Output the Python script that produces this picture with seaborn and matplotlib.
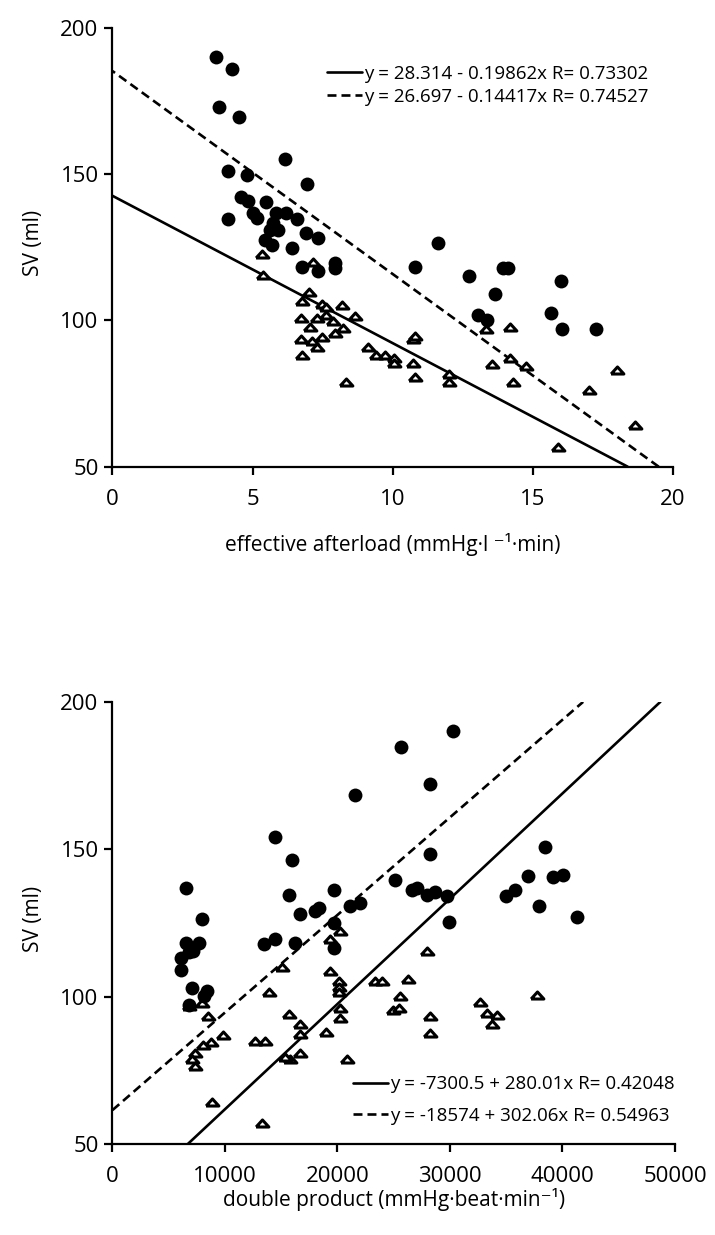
import numpy as np
import matplotlib
matplotlib.use("Agg")
import matplotlib.pyplot as plt
import seaborn as sns

# ---------------- top panel: effective afterload vs SV ----------------
ea_circle_x = [3.7, 4.27, 3.8, 4.52, 6.16, 4.13, 4.79, 6.95, 4.6, 4.84, 5.46, 4.11, 5.02,
               5.14, 5.85, 6.2, 6.57, 5.73, 5.91, 5.62, 6.92, 7.34, 5.44, 5.68, 6.42,
               6.77, 7.34, 7.93, 7.93, 10.8, 11.63, 12.71, 13.94, 14.1, 16.0, 13.66,
               13.05, 13.38, 15.64, 16.05, 17.24]
ea_circle_y = [190, 185.8, 173, 169.5, 155, 151, 149.6, 146.6, 142, 140.8, 140.3, 134.8, 136.8,
               135, 136.8, 136.8, 134.5, 133.4, 131, 131, 130, 128.2, 127.4, 125.6, 124.8,
               118.3, 116.8, 119.6, 118, 118.3, 126.3, 115.3, 117.9, 117.9, 113.3, 109,
               101.9, 100.2, 102.5, 97.1, 97.1]
ea_tri_x = [5.34, 5.38, 7.16, 7.02, 6.77, 7.46, 7.63, 8.19, 8.66, 6.74, 7.28, 7.63, 7.87,
            7.06, 7.93, 8.23, 7.46, 6.74, 7.13, 7.3, 6.77, 8.34, 9.12, 9.39, 9.71, 10.06,
            10.06, 10.72, 10.8, 10.72, 10.78, 12.02, 12.02, 13.33, 14.18, 13.54, 14.18,
            14.75, 14.28, 17.0, 18.0, 18.64, 15.88]
ea_tri_y = [122.7, 115.6, 120, 109.6, 106.5, 105.7, 104.7, 105.3, 101.5, 100.8, 100.8, 101.9,
            99.9, 97.9, 95.6, 97.3, 94.4, 93.5, 93.1, 91, 88.1, 79, 90.8, 88.1, 88.1, 87,
            85.3, 93.8, 94.5, 85.3, 80.7, 79, 81.6, 97.1, 97.9, 85, 87, 84.4, 78.8, 76.1,
            83.2, 64.3, 56.9]
# fits written as  afterload = a + b * SV
ea_fit_a = [28.314, 26.697]
ea_fit_b = [-0.19862, -0.14417]
ea_fit_r = ["0.73302", "0.74527"]
ea_xticks = [0, 5, 10, 15, 20]
sv_ticks = [50, 100, 150, 200]

# ---------------- bottom panel: double product vs SV ----------------
dp_circle_x = [25665, 21580, 14476, 15959, 6572, 15700, 19654, 25100, 26615, 27060, 27942,
               28686, 29778, 30310, 28242, 28242, 38455, 36973, 39139, 40027, 35790, 34991,
               37949, 41261, 29955, 7993, 6572, 7727, 6780, 7167, 6066, 6066, 7078, 8410,
               8170, 6780, 13437, 14476, 16190, 16696, 18030, 18330, 21137, 22025, 19654,
               19654]
dp_circle_y = [184.7, 168.5, 154.1, 146.2, 136.9, 134.5, 136.1, 139.5, 136.1, 136.7, 134.4,
               135.5, 134.3, 190, 172.1, 148.5, 150.7, 140.9, 140.7, 141.4, 136.3, 134.3,
               130.7, 127, 125.4, 126.2, 118.3, 118.3, 115.3, 115.5, 113.2, 109, 102.8, 101.9,
               100.2, 97.1, 118, 119.7, 118.1, 128.1, 129, 130.2, 130.9, 131.6, 116.6,
               125]
dp_tri_x = [20250, 19360, 19360, 20100, 20100, 20100, 20190, 20190, 23350, 23943, 26310,
            25577, 24980, 25426, 15070, 13882, 15700, 16634, 16696, 18942, 12700, 13588,
            8464, 9796, 8766, 8055, 7371, 7078, 7309, 6780, 7966, 15749, 16634, 15370,
            20836, 8850, 13295, 27942, 28242, 28242, 32682, 33330, 34165, 33718, 37700]
dp_tri_y = [122.2, 119.4, 108.7, 105.3, 103.4, 101.4, 96.3, 92.6, 105.3, 105.3, 106,
            100.2, 95.5, 96.1, 109.9, 101.4, 94.2, 90.6, 87.2, 88, 85, 85,
            93.5, 86.9, 84.7, 83.5, 80.8, 78.8, 76.3, 96.8, 97.8, 78.8, 80.8, 79.4,
            78.8, 64.3, 57.1, 115.5, 93.3, 87.8, 98, 94.4, 93.7, 90.6, 100.4]
# fits written as  double product = a + b * SV
dp_fit_a = [-7300.5, -18574]
dp_fit_b = [280.01, 302.06]
dp_fit_r = ["0.42048", "0.54963"]
dp_xticks = [0, 10000, 20000, 30000, 40000, 50000]

# ---------------- styling ----------------
sns.set_style("ticks")
plt.rcParams["font.family"] = ["Open Sans", "DejaVu Sans"]
plt.rcParams["axes.linewidth"] = 1.6
plt.rcParams["xtick.major.width"] = 1.6
plt.rcParams["ytick.major.width"] = 1.6
plt.rcParams["xtick.major.size"] = 6
plt.rcParams["ytick.major.size"] = 6
plt.rcParams["xtick.color"] = "black"
plt.rcParams["ytick.color"] = "black"
plt.rcParams["xtick.labelcolor"] = "black"
plt.rcParams["ytick.labelcolor"] = "black"
plt.rcParams["axes.edgecolor"] = "black"
plt.rcParams["axes.labelcolor"] = "black"
plt.rcParams["text.color"] = "black"

TRI = [(-1.0, -0.55), (1.0, -0.55), (0.0, 0.55), (-1.0, -0.55)]
styles = ["-", (0, (3.4, 1.9))]

fig = plt.figure(figsize=(7.15, 12.35), dpi=100)
ax1 = fig.add_axes([0.1573, 0.6221, 0.784, 0.3555])
ax2 = fig.add_axes([0.1573, 0.0737, 0.7867, 0.358])


def scatter(ax, cx, cy, tx, ty):
    sns.scatterplot(x=tx, y=ty, ax=ax, marker=TRI, s=85, facecolor="white",
                    edgecolor="black", linewidth=2.2, zorder=3, legend=False)
    sns.scatterplot(x=cx, y=cy, ax=ax, marker="o", s=100, color="black",
                    edgecolor="black", linewidth=0, zorder=4, legend=False)


# top panel
scatter(ax1, ea_circle_x, ea_circle_y, ea_tri_x, ea_tri_y)
for a, b, r, ls in zip(ea_fit_a, ea_fit_b, ea_fit_r, styles):
    sv_hi = min(200.0, -a / b)
    sv = np.array([50.0, sv_hi])
    xx = a + b * sv
    sign = "-" if b < 0 else "+"
    lab = f"y = {a:g} {sign} {abs(b):g}x R= {r}"
    sns.lineplot(x=xx, y=sv, ax=ax1, sort=False, estimator=None, color="black",
                 linewidth=1.9, linestyle=ls, label=lab, zorder=2)
ax1.set_xlim(0, 20)
ax1.set_ylim(50, 200)
ax1.set_xticks(ea_xticks)
ax1.set_yticks(sv_ticks)
ax1.set_xlabel("effective afterload (mmHg·l \u207b\u00b9·min)", fontsize=15)
ax1.set_ylabel("SV (ml)", fontsize=15)
ax1.xaxis.set_label_coords(0.5, -0.152)
ax1.yaxis.set_label_coords(-0.122, 0.51)
ax1.legend(loc="upper left", bbox_to_anchor=(0.383, 0.915), frameon=False,
           fontsize=13.5, handlelength=1.85, handletextpad=0.1, labelspacing=0.25,
           borderpad=0, borderaxespad=0)

# bottom panel
scatter(ax2, dp_circle_x, dp_circle_y, dp_tri_x, dp_tri_y)
for a, b, r, ls in zip(dp_fit_a, dp_fit_b, dp_fit_r, styles):
    sv_lo = max(50.0, -a / b)
    sv = np.array([sv_lo, 200.0])
    xx = a + b * sv
    sign = "-" if b < 0 else "+"
    lab = f"y = {a:g} {sign} {abs(b):g}x R= {r}"
    sns.lineplot(x=xx, y=sv, ax=ax2, sort=False, estimator=None, color="black",
                 linewidth=1.9, linestyle=ls, label=lab, zorder=2)
ax2.set_xlim(0, 50000)
ax2.set_ylim(50, 200)
ax2.set_xticks(dp_xticks)
ax2.set_xticklabels([str(t) for t in dp_xticks])
ax2.set_yticks(sv_ticks)
ax2.set_xlabel("double product (mmHg·beat·min\u207b\u00b9)", fontsize=15)
ax2.set_ylabel("SV (ml)", fontsize=15)
ax2.xaxis.set_label_coords(0.5, -0.1)
ax2.yaxis.set_label_coords(-0.122, 0.51)
ax2.legend(loc="upper left", bbox_to_anchor=(0.428, 0.155), frameon=False,
           fontsize=13.5, handlelength=1.85, handletextpad=0.1, labelspacing=0.7,
           borderpad=0, borderaxespad=0)

for ax in (ax1, ax2):
    sns.despine(ax=ax)
    ax.tick_params(axis="both", labelsize=16)
    ax.tick_params(axis="x", pad=10)
    ax.tick_params(axis="y", pad=4)
    ax.spines["left"].set_bounds(50, 200)

fig.savefig("out.png", dpi=100, facecolor="white")
